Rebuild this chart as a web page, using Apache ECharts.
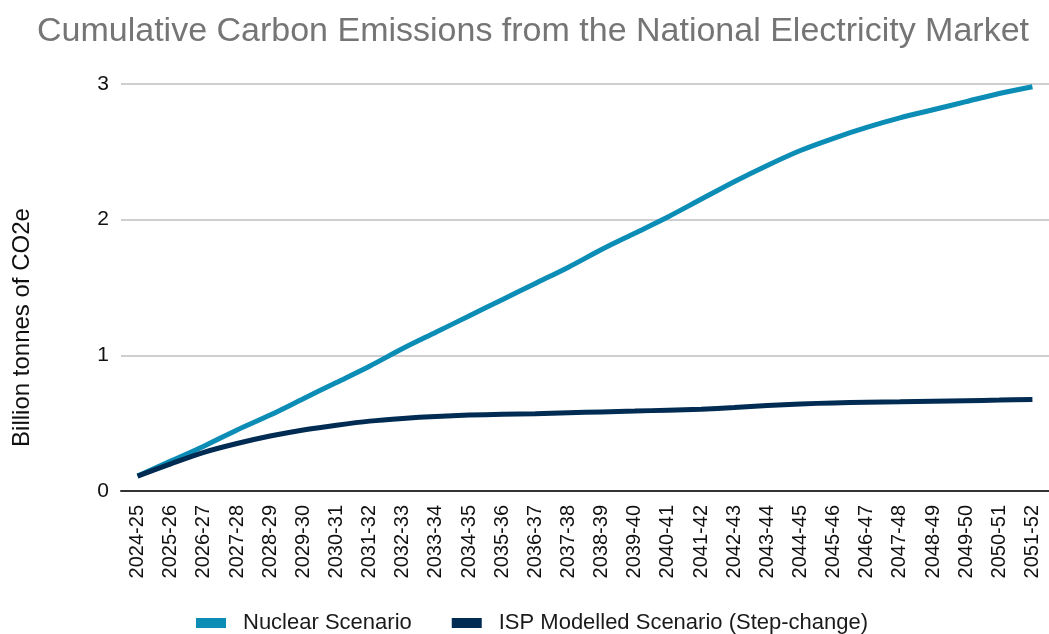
<!DOCTYPE html>
<html>
<head>
<meta charset="utf-8">
<script src="https://cdn.jsdelivr.net/npm/echarts@6/dist/echarts.min.js"></script>
<style>
    html, body { margin: 0; padding: 0; background: #fff; }
    #main { width: 1049px; height: 634px; }
</style>
</head>
<body>
<div id="main"></div>
<script>
// financial years on the x axis
const years = [
    '2024-25', '2025-26', '2026-27', '2027-28', '2028-29', '2029-30', '2030-31',
    '2031-32', '2032-33', '2033-34', '2034-35', '2035-36', '2036-37', '2037-38',
    '2038-39', '2039-40', '2040-41', '2041-42', '2042-43', '2043-44', '2044-45',
    '2045-46', '2046-47', '2047-48', '2048-49', '2049-50', '2050-51', '2051-52'
];
// cumulative emissions, billion tonnes CO2e
const nuclear = [
    0.11, 0.22, 0.33, 0.45, 0.56, 0.68, 0.80, 0.92, 1.05, 1.17,
    1.29, 1.41, 1.53, 1.65, 1.78, 1.90, 2.02, 2.15, 2.28, 2.40,
    2.51, 2.60, 2.68, 2.75, 2.81, 2.87, 2.93, 2.98
];
const isp = [
    0.11, 0.20, 0.285, 0.35, 0.405, 0.45, 0.485, 0.515, 0.535, 0.55,
    0.56, 0.565, 0.57, 0.577, 0.583, 0.589, 0.596, 0.603, 0.615, 0.63,
    0.642, 0.649, 0.654, 0.658, 0.662, 0.666, 0.67, 0.675
];
const yTicks = [0, 1, 2, 3];

const font = '"Liberation Sans", Arial, sans-serif';
const chart = echarts.init(document.getElementById('main'));

const option = {
    animation: false,
    textStyle: { fontFamily: font },
    title: {
        text: 'Cumulative Carbon Emissions from the National Electricity Market',
        left: 32,
        top: 10,
        textStyle: { color: '#757575', fontSize: 34, fontWeight: 'normal', fontFamily: font }
    },
    legend: {
        top: 607,
        left: 191,
        icon: 'rect',
        itemWidth: 30,
        itemHeight: 10,
        itemGap: 40,
        textStyle: { color: '#1a1a1a', fontSize: 22, padding: [0, 0, 0, 12] },
        data: ['Nuclear Scenario', 'ISP Modelled Scenario (Step-change)']
    },
    grid: {
        left: 121,
        top: 84,
        width: 936,
        height: 407
    },
    xAxis: {
        type: 'category',
        data: years,
        boundaryGap: true,
        axisLine: { lineStyle: { color: '#333', width: 2 } },
        axisTick: { show: false },
        axisLabel: { rotate: 90, color: '#111', fontSize: 20, margin: 14, interval: 0 }
    },
    yAxis: {
        type: 'value',
        min: yTicks[0],
        max: yTicks[yTicks.length - 1],
        interval: 1,
        name: 'Billion tonnes of CO2e',
        nameLocation: 'middle',
        nameGap: 87,
        nameTextStyle: { color: '#111', fontSize: 24, padding: [0, 80, 0, 0] },
        axisLine: { show: false },
        axisTick: { show: false },
        axisLabel: { color: '#111', fontSize: 21, margin: 12 },
        splitLine: { lineStyle: { color: '#cfcfcf', width: 2 } }
    },
    series: [
        {
            name: 'Nuclear Scenario',
            type: 'line',
            data: nuclear,
            smooth: 0.3,
            showSymbol: false,
            lineStyle: { color: '#0b8db6', width: 5 },
            itemStyle: { color: '#0b8db6' }
        },
        {
            name: 'ISP Modelled Scenario (Step-change)',
            type: 'line',
            data: isp,
            smooth: 0.3,
            showSymbol: false,
            lineStyle: { color: '#002b52', width: 5 },
            itemStyle: { color: '#002b52' }
        }
    ]
};
chart.setOption(option);
</script>
</body>
</html>
